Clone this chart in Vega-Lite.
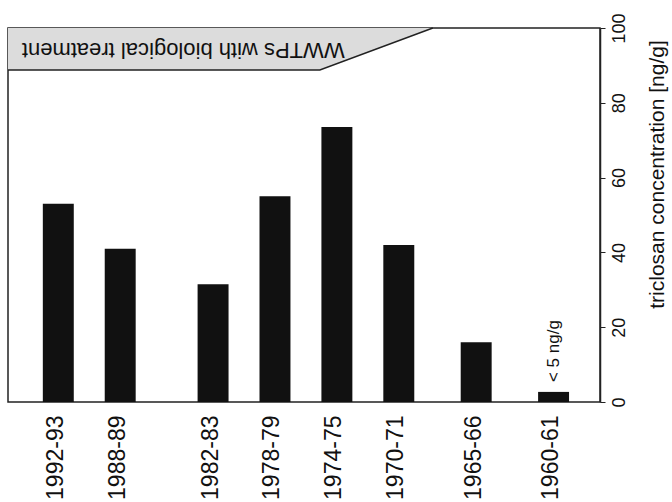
{
  "$schema": "https://vega.github.io/schema/vega-lite/v6.json",
  "autosize": "none",
  "width": 592,
  "height": 374,
  "padding": {"left": 8, "top": 28, "right": 72, "bottom": 100},
  "background": "white",
  "config": {
    "font": "Liberation Sans",
    "view": {"stroke": "#222", "strokeWidth": 1.5},
    "axis": {"grid": false}
  },
  "datasets": {
    "bars": [
      {"period": "1992-93", "mid": 1992.5, "start": 1991.5, "end": 1993.5, "value": 53},
      {"period": "1988-89", "mid": 1988.5, "start": 1987.5, "end": 1989.5, "value": 41},
      {"period": "1982-83", "mid": 1982.5, "start": 1981.5, "end": 1983.5, "value": 31.5},
      {"period": "1978-79", "mid": 1978.5, "start": 1977.5, "end": 1979.5, "value": 55},
      {"period": "1974-75", "mid": 1974.5, "start": 1973.5, "end": 1975.5, "value": 73.5},
      {"period": "1970-71", "mid": 1970.5, "start": 1969.5, "end": 1971.5, "value": 42},
      {"period": "1965-66", "mid": 1965.5, "start": 1964.5, "end": 1966.5, "value": 16},
      {"period": "1960-61", "mid": 1960.5, "start": 1959.5, "end": 1961.5, "value": 2.7}
    ],
    "band": [
      {"yr": 1995.75, "lo": 88.8},
      {"yr": 1975.6, "lo": 88.8},
      {"yr": 1968.3, "lo": 100}
    ],
    "notes": [
      {"yr": 1974.0, "val": 94.2, "label": "WWTPs with biological treatment"}
    ],
    "small": [
      {"yr": 1960.5, "val": 6.4, "label": "< 5 ng/g"}
    ]
  },
  "layer": [
    {
      "data": {"name": "band"},
      "mark": {"type": "area", "color": "#dcdcdc"},
      "encoding": {
        "x": {"field": "yr", "type": "quantitative", "scale": {"domain": [1957.5, 1995.75], "reverse": true, "nice": false, "zero": false},
          "axis": {"orient": "bottom", "domain": false, "ticks": false, "tickSize": 0, "labelAngle": 270, "labelAlign": "right", "labelBaseline": "middle", "labelPadding": 13, "labelOffset": -3, "labelFontSize": 23, "labelColor": "#111", "title": null,
            "values": [1992.5, 1988.5, 1982.5, 1978.5, 1974.5, 1970.5, 1965.5, 1960.5],
            "labelExpr": "floor(datum.value) + '-' + substring(toString(floor(datum.value) + 1), 2, 4)"}},
        "y": {"field": "lo", "type": "quantitative", "scale": {"domain": [0, 100], "nice": false},
          "axis": {"orient": "right", "values": [0, 20, 40, 60, 80, 100], "domainColor": "#222", "domainWidth": 1.5, "tickColor": "#222", "tickSize": 5, "labelAngle": 270, "labelAlign": "center", "labelBaseline": "top", "labelPadding": 5, "labelFontSize": 18, "labelColor": "#111",
            "title": "triclosan concentration [ng/g]", "titleAngle": 270, "titleFontSize": 21, "titleFontWeight": "normal", "titleColor": "#111", "titleAlign": "center", "titleBaseline": "top", "titleX": 46, "titleY": 146}},
        "y2": {"datum": 100}
      }
    },
    {
      "data": {"name": "band"},
      "mark": {"type": "line", "color": "#222", "strokeWidth": 1.5},
      "encoding": {
        "x": {"field": "yr", "type": "quantitative"},
        "y": {"field": "lo", "type": "quantitative"}
      }
    },
    {
      "data": {"name": "bars"},
      "mark": {"type": "bar", "color": "#111"},
      "encoding": {
        "x": {"field": "start", "type": "quantitative"},
        "x2": {"field": "end"},
        "y": {"field": "value", "type": "quantitative"},
        "y2": {"datum": 0}
      }
    },
    {
      "data": {"name": "notes"},
      "mark": {"type": "text", "angle": 180, "align": "left", "baseline": "middle", "fontSize": 22, "color": "#111"},
      "encoding": {
        "x": {"field": "yr", "type": "quantitative"},
        "y": {"field": "val", "type": "quantitative"},
        "text": {"field": "label"}
      }
    },
    {
      "data": {"name": "small"},
      "mark": {"type": "text", "angle": 270, "align": "left", "baseline": "middle", "fontSize": 17, "color": "#111", "dx": -4},
      "encoding": {
        "x": {"field": "yr", "type": "quantitative"},
        "y": {"field": "val", "type": "quantitative"},
        "text": {"field": "label"}
      }
    }
  ]
}
